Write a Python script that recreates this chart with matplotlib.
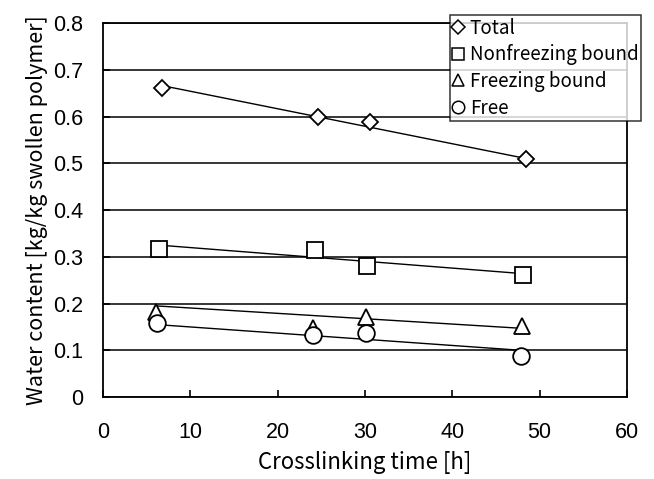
import numpy as np
import matplotlib
matplotlib.use('Agg')
import matplotlib.pyplot as plt
from matplotlib.lines import Line2D

# values
total_x = [6.8, 24.6, 30.6, 48.5]
total_y = [0.66, 0.60, 0.588, 0.509]
nonfreeze_x = [6.4, 24.3, 30.2, 48.1]
nonfreeze_y = [0.316, 0.314, 0.281, 0.262]
freeze_x = [6.1, 24.1, 30.1, 48.0]
freeze_y = [0.181, 0.147, 0.172, 0.151]
free_x = [6.2, 24.1, 30.1, 47.9]
free_y = [0.158, 0.132, 0.137, 0.087]

# trend lines (value at first and last x of each series)
total_trend = [0.666, 0.510]
nonfreeze_trend = [0.325, 0.264]
freeze_trend = [0.195, 0.147]
free_trend = [0.155, 0.100]

labels = ['Total', 'Nonfreezing bound', 'Freezing bound', 'Free']
markers = ['D', 's', '^', 'o']
sizes = [8, 12, 11, 12]

label_font = ['Noto Sans CJK JP', 'DejaVu Sans']
tick_font = 'Liberation Sans'

fig = plt.figure(figsize=(6.54, 4.79), dpi=100)
ax = fig.add_axes([0.1575, 0.171, 0.801, 0.781])

series = [(total_x, total_y, total_trend), (nonfreeze_x, nonfreeze_y, nonfreeze_trend),
          (freeze_x, freeze_y, freeze_trend), (free_x, free_y, free_trend)]

for (xs, ys, tr), m, ms in zip(series, markers, sizes):
    ax.plot([xs[0], xs[-1]], tr, color='black', lw=1.0, zorder=2)
    ax.plot(xs, ys, linestyle='none', marker=m, markersize=ms,
            markerfacecolor='white', markeredgecolor='black',
            markeredgewidth=1.3, zorder=3)

ax.set_xlim(0, 60)
ax.set_ylim(0, 0.8)
ax.set_xticks(np.arange(0, 61, 10))
ax.set_yticks(np.arange(0, 0.81, 0.1))
ax.set_yticklabels(['0', '0.1', '0.2', '0.3', '0.4', '0.5', '0.6', '0.7', '0.8'])
ax.tick_params(direction='in', length=5, width=1.2, labelsize=15.5)
ax.tick_params(axis='x', pad=18)
ax.tick_params(axis='y', pad=14)
for t in ax.get_xticklabels() + ax.get_yticklabels():
    t.set_fontfamily(tick_font)
ax.grid(axis='y', color='black', lw=1.1)
ax.set_axisbelow(True)
for s in ax.spines.values():
    s.set_linewidth(1.3)

ax.set_xlabel('Crosslinking time [h]', fontsize=16, family=label_font, labelpad=6)
ax.set_ylabel('Water content [kg/kg swollen polymer]', fontsize=15.5,
              family=label_font, labelpad=4)

handles = [Line2D([], [], linestyle='none', marker=m,
                  markersize=(7 if m == 'D' else 9), markerfacecolor='white',
                  markeredgecolor='black', markeredgewidth=1.1)
           for m in markers]
leg = ax.legend(handles, labels, loc='upper left', bbox_to_anchor=(0.6625, 1.0214),
                frameon=True, fancybox=False, edgecolor='black',
                prop={'family': label_font, 'size': 13.5},
                handlelength=0.6, handletextpad=0.3, borderpad=0.15,
                labelspacing=0.3, borderaxespad=0)
leg.get_frame().set_linewidth(1.1)

fig.savefig('out.png', dpi=100)
